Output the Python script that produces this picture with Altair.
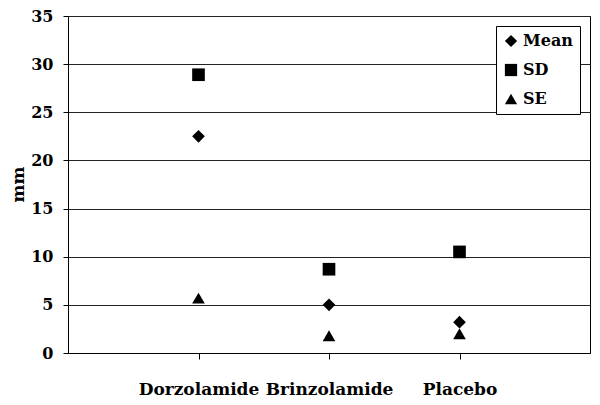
import altair as alt
import pandas as pd

groups = ["Dorzolamide", "Brinzolamide", "Placebo"]
mean_vals = [22.5, 5.0, 3.2]
sd_vals = [28.9, 8.7, 10.5]
se_vals = [5.7, 1.8, 2.0]
stats = ["Mean", "SD", "SE"]
y_ticks = [0, 5, 10, 15, 20, 25, 30, 35]

rows = []
for name, vals in zip(stats, [mean_vals, sd_vals, se_vals]):
    for g, v in zip(groups, vals):
        rows.append({"group": g, "stat": name, "value": v})
df = pd.DataFrame(rows)

FONT = "DejaVu Serif"

chart = alt.Chart(df).mark_point(filled=True, opacity=1, color="black", strokeWidth=0, size=160).encode(
    x=alt.X("group:N", sort=groups,
            scale=alt.Scale(type="point", padding=1),
            axis=alt.Axis(title=None, labelAngle=0, labelPadding=22, tickSize=6,
                          labelFontSize=17, grid=False)),
    y=alt.Y("value:Q", scale=alt.Scale(domain=[0, 35], nice=False),
            axis=alt.Axis(title="mm", values=y_ticks, tickSize=5, labelPadding=10,
                          grid=True, titleAngle=270, titleX=-50, titleY=168,
                          titleAlign="center", titleBaseline="middle")),
    shape=alt.Shape("stat:N", sort=stats,
                    scale=alt.Scale(domain=stats, range=["diamond", "square", "triangle-up"]),
                    legend=alt.Legend(title=None, orient="none", legendX=428, legendY=10,
                                      strokeColor="black", fillColor="white",
                                      padding=7, rowPadding=13, symbolSize=150,
                                      symbolFillColor="black", symbolStrokeWidth=0,
                                      labelFont=FONT, labelFontWeight="bold",
                                      labelFontSize=16, labelColor="black",
                                      symbolOffset=0, labelOffset=4)),
).properties(
    width=522, height=337,
    padding={"left": 60, "top": 8, "right": 2, "bottom": 44},
    autosize=alt.AutoSizeParams(type="none"),
).configure_view(
    stroke="black", strokeWidth=1
).configure_axis(
    domainColor="black", tickColor="black", gridColor="#222", gridWidth=1,
    labelFont=FONT, labelFontWeight="bold", labelFontSize=16, labelColor="black",
    titleFont=FONT, titleFontWeight="bold", titleFontSize=17, titleColor="black",
    domainWidth=1, tickWidth=1
)

chart.save("out.html", embed_options={"renderer": "svg", "actions": False})
